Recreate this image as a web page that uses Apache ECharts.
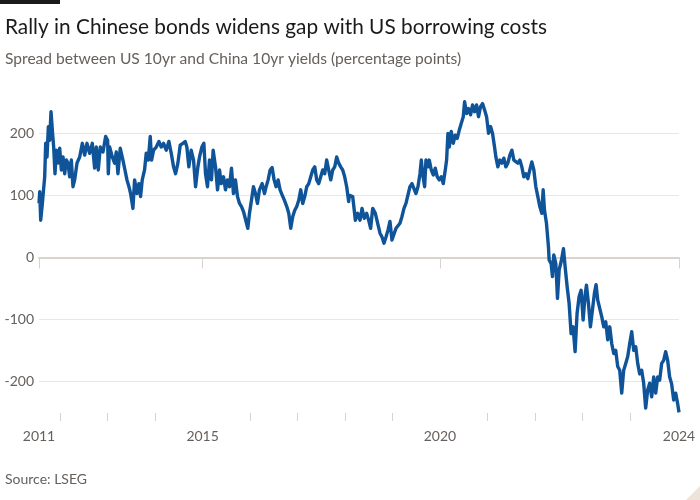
<!DOCTYPE html>
<html>
<head>
<meta charset="utf-8">
<script src="https://cdn.jsdelivr.net/npm/echarts@6/dist/echarts.min.js"></script>
<style>
html,body{margin:0;padding:0;background:#ffffff;}
#chart{width:700px;height:500px;}
</style>
</head>
<body>
<div id="chart"></div>
<script>
// Decimal-year dates
const dates = [
2011.554,2011.568,2011.589,2011.624,2011.645,2011.673,2011.694,2011.722,2011.750,2011.778,
2011.806,2011.834,2011.862,2011.890,2011.919,2011.954,2011.989,2012.024,2012.059,2012.094,
2012.129,2012.164,2012.199,2012.234,2012.269,2012.304,2012.353,2012.410,2012.466,2012.515,
2012.564,2012.620,2012.676,2012.725,2012.760,2012.802,2012.844,2012.901,2012.957,2012.999,
2013.013,2013.041,2013.097,2013.146,2013.181,2013.216,2013.265,2013.321,2013.364,2013.406,
2013.448,2013.483,2013.532,2013.567,2013.616,2013.658,2013.693,2013.728,2013.777,2013.812,
2013.855,2013.897,2013.925,2013.967,2014.023,2014.079,2014.128,2014.177,2014.233,2014.289,
2014.339,2014.388,2014.430,2014.479,2014.528,2014.584,2014.633,2014.668,2014.710,2014.759,
2014.809,2014.851,2014.900,2014.935,2014.984,2015.026,2015.061,2015.103,2015.145,2015.187,
2015.222,2015.272,2015.314,2015.356,2015.391,2015.440,2015.482,2015.524,2015.566,2015.608,
2015.650,2015.692,2015.735,2015.777,2015.819,2015.861,2015.903,2015.952,2015.987,2016.029,
2016.071,2016.113,2016.155,2016.197,2016.254,2016.303,2016.338,2016.380,2016.422,2016.464,
2016.506,2016.548,2016.590,2016.632,2016.674,2016.724,2016.773,2016.815,2016.857,2016.899,
2016.941,2016.983,2017.025,2017.067,2017.109,2017.151,2017.194,2017.236,2017.278,2017.320,
2017.362,2017.404,2017.446,2017.488,2017.530,2017.572,2017.614,2017.656,2017.699,2017.741,
2017.783,2017.825,2017.867,2017.909,2017.951,2017.993,2018.035,2018.077,
2018.092,2018.162,2018.218,2018.267,2018.316,2018.358,2018.407,2018.456,2018.498,2018.540,
2018.583,2018.639,2018.688,2018.737,2018.779,2018.821,2018.863,2018.905,2018.947,2018.989,
2019.031,2019.074,2019.116,2019.158,2019.200,2019.242,2019.284,2019.326,2019.368,2019.410,
2019.452,2019.494,2019.537,2019.579,2019.607,2019.635,2019.677,2019.705,2019.747,2019.775,
2019.817,2019.859,2019.901,2019.943,2019.985,2020.028,2020.070,2020.112,2020.140,2020.168,
2020.196,2020.238,2020.280,2020.322,2020.364,2020.406,2020.448,2020.491,2020.519,2020.561,
2020.603,2020.645,2020.687,2020.729,2020.771,2020.813,2020.855,2020.897,2020.939,2020.982,
2021.024,2021.066,2021.108,2021.150,2021.178,2021.220,2021.262,2021.304,2021.346,2021.388,
2021.430,2021.473,2021.515,2021.557,2021.599,2021.641,2021.683,2021.725,2021.767,2021.809,
2021.851,2021.893,2021.936,2021.978,2022.020,2022.062,2022.104,2022.146,2022.174,2022.202,
2022.244,2022.286,
2022.300,2022.342,2022.370,2022.398,2022.441,2022.476,2022.511,2022.553,2022.602,2022.637,
2022.679,2022.721,2022.763,2022.805,2022.847,2022.889,2022.932,2022.974,2023.016,2023.058,
2023.086,2023.128,2023.170,2023.212,2023.254,2023.289,2023.324,2023.366,2023.409,2023.451,
2023.493,2023.535,2023.577,2023.619,2023.661,2023.703,2023.745,2023.787,2023.829,2023.871,
2023.914,2023.956,2023.998,2024.040,2024.082,2024.124,2024.166,2024.208,2024.250,2024.292,
2024.334,2024.376,2024.418,2024.461,2024.503,2024.545,2024.587,2024.629,2024.671,2024.713,
2024.755,2024.797,2024.839,2024.881,2024.924,2024.966,2025.008,2025.036
];

// Spread (China 10yr minus US 10yr)
const spread = [
87,106,60,87,106,130,184,162,211,189,
235,205,178,135,173,152,176,141,162,135,
157,152,130,157,114,125,152,162,184,165,
184,168,184,144,178,141,178,170,195,189,
135,178,162,152,170,135,176,157,141,125,
114,103,79,125,103,119,98,125,141,168,
157,195,157,173,178,187,178,184,173,187,
168,146,135,152,181,184,187,178,146,173,
157,114,146,162,178,184,135,114,157,125,
173,146,109,141,119,130,109,125,114,144,
103,125,98,87,82,74,71,47,71,92,
114,103,87,109,119,103,114,125,141,145,
125,114,125,109,101,92,82,71,47,66,
76,82,92,109,87,98,114,119,130,141,
146,125,119,130,141,135,157,141,125,141,
146,162,152,146,141,130,114,90,
100,98,60,71,60,79,63,71,60,47,
79,71,55,39,33,23,33,44,58,28,
28,47,49,55,66,79,87,87,114,119,
122,103,114,135,157,135,114,157,146,157,
141,133,144,130,125,130,119,141,157,200,
178,203,184,197,192,205,216,227,251,232,
240,230,246,235,246,227,243,248,238,227,
200,211,200,178,162,146,157,152,160,146,
152,165,173,157,160,152,157,146,130,135,
127,141,154,141,114,98,82,71,109,76,
55,17,
-4,-10,-31,4,-10,-66,-20,-7,14,-15,
-47,-74,-123,-112,-152,-90,-63,-53,-101,-61,
-45,-74,-112,-85,-58,-44,-69,-69,-96,-112,
-104,-133,-112,-139,-155,-150,-176,-182,-219,-182,
-171,-160,-139,-120,-150,-144,-171,-188,-182,-203,
-243,-214,-203,-225,-193,-219,-193,-198,-171,-166,
-152,-166,-193,-204,-230,-219,-236,-250
];

const yTicks = [-200, -100, 0, 100, 200];
const xStart = 2011.553;
const xEnd = 2025.036;
const xLabelTicks = [xStart, 2015, 2020, xEnd];
const xLabelText = ['2011', '2015', '2020', '2024'];
const xMinorTicks = [2012, 2013, 2014, 2016, 2017, 2018, 2019, 2021, 2022, 2023, 2024];

const titleText = 'Rally in Chinese bonds widens gap with US borrowing costs';
const subtitleText = 'Spread between US 10yr and China 10yr yields (percentage points)';
const sourceText = 'Source: LSEG';

const FONT = 'Lato, "Noto Sans", sans-serif';
const GREY = '#66605c';
const AXIS = '#d9d3cd';

const chart = echarts.init(document.getElementById('chart'), null, {renderer: 'canvas'});
const seriesData = dates.map((d, i) => [d, spread[i]]);

chart.setOption({
  animation: false,
  backgroundColor: '#ffffff',
  title: [
    {text: titleText, left: 0, top: 12,
     textStyle: {fontFamily: FONT, fontSize: 20.8, fontWeight: 'normal', color: '#1a1a1a'}},
    {text: subtitleText, left: 0, top: 46,
     textStyle: {fontFamily: FONT, fontSize: 15.6, fontWeight: 'normal', color: GREY}},
    {text: sourceText, left: 0, top: 467,
     textStyle: {fontFamily: FONT, fontSize: 14, fontWeight: 'normal', color: GREY}}
  ],
  graphic: [
    {type: 'rect', left: 0, top: 0, shape: {width: 60, height: 4}, style: {fill: '#1a1a1a'}},
    {type: 'polygon', shape: {points: [[700, 486], [700, 500], [686, 500]]}, style: {fill: '#ede3d9'}}
  ],
  grid: {left: 39, right: 21, top: 90, bottom: 87, outerBoundsMode: 'none'},
  xAxis: [
    {
      type: 'value', min: xStart, max: xEnd,
      axisLine: {show: true, lineStyle: {color: AXIS, width: 2}},
      axisTick: {show: true, length: 11, customValues: xLabelTicks, lineStyle: {color: AXIS, width: 1}},
      axisLabel: {
        customValues: xLabelTicks, margin: 16, color: GREY, fontFamily: FONT, fontSize: 14,
        formatter: function (v) {
          const i = xLabelTicks.findIndex(t => Math.abs(t - v) < 1e-6);
          return i >= 0 ? xLabelText[i] : '';
        }
      },
      splitLine: {show: false}
    },
    {
      type: 'value', min: xStart, max: xEnd, position: 'bottom', offset: 0, gridIndex: 0,
      axisLine: {show: false},
      axisTick: {show: true, length: 8, customValues: xMinorTicks, lineStyle: {color: AXIS, width: 1}},
      axisLabel: {show: false},
      splitLine: {show: false}
    }
  ],
  yAxis: {
    type: 'value', min: -251, max: 270,
    axisLine: {show: false},
    axisTick: {show: false, customValues: yTicks},
    axisLabel: {customValues: yTicks, margin: 5, color: GREY, fontFamily: FONT, fontSize: 14},
    splitLine: {show: true, lineStyle: {color: '#ebe6e1', width: 1}}
  },
  series: [{
    type: 'line',
    xAxisIndex: 0,
    data: seriesData,
    showSymbol: false,
    symbol: 'none',
    lineStyle: {color: '#0f5499', width: 3.4, join: 'round'},
    z: 3
  }]
});
</script>
</body>
</html>
